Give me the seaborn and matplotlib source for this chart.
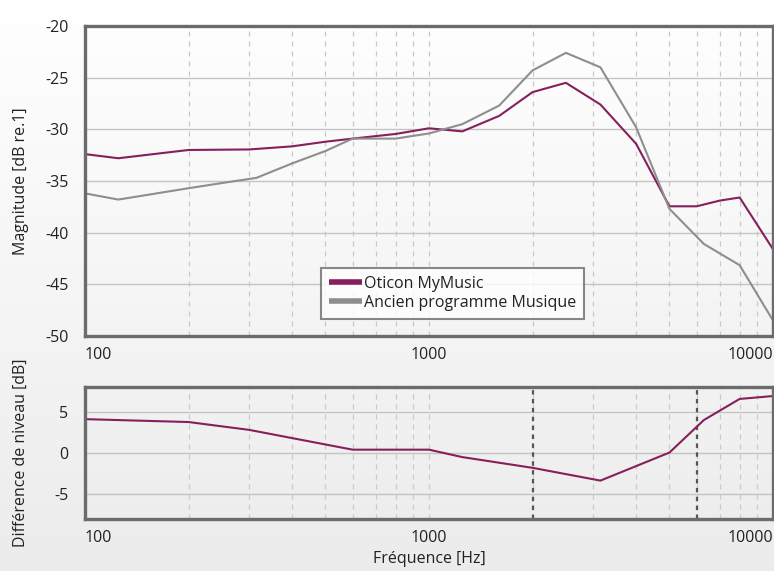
import numpy as np
import pandas as pd
import matplotlib
matplotlib.use("Agg")
import matplotlib.pyplot as plt
import seaborn as sns
from matplotlib.lines import Line2D

# ---- data ----
freq_mymusic = [100, 125, 200, 300, 400, 500, 600, 800, 1000, 1250, 1600, 2000,
                2500, 3150, 4000, 5000, 6000, 7000, 8000, 10000]
mag_mymusic = [-32.4, -32.8, -32.0, -31.95, -31.65, -31.2, -30.9, -30.45, -29.9,
               -30.2, -28.7, -26.4, -25.5, -27.6, -31.4, -37.45, -37.45, -36.9,
               -36.6, -41.6]

freq_ancien = [100, 125, 200, 250, 315, 400, 500, 600, 800, 1000, 1250, 1600,
               2000, 2500, 3150, 4000, 5000, 6300, 8000, 10000]
mag_ancien = [-36.2, -36.8, -35.7, -35.2, -34.7, -33.3, -32.1, -30.9, -30.9,
              -30.4, -29.5, -27.7, -24.3, -22.6, -24.0, -29.8, -37.7, -41.1,
              -43.15, -48.5]

freq_diff = [100, 200, 300, 600, 1000, 1250, 2000, 3150, 5000, 6300, 8000, 10000]
diff_level = [4.1, 3.75, 2.8, 0.4, 0.4, -0.5, -1.8, -3.35, 0.05, 4.0, 6.55, 6.9]

marker_freqs = [2000, 6000]

series_names = ["Oticon MyMusic", "Ancien programme Musique"]
top_yticks = [-20, -25, -30, -35, -40, -45, -50]
bottom_yticks = [5, 0, -5]
xtick_vals = [100, 1000, 10000]
xtick_labels = ["100", "1000", "10000"]

# ---- style ----
sns.set_style("white")
plt.rcParams["font.family"] = ["Open Sans", "DejaVu Sans"]

FS = 11.5
C_MAG = "#861F5B"
C_GRAY = "#8E8E8E"
FRAME = "#6B6B6B"
TXT = "#222222"

fig = plt.figure(figsize=(7.74, 5.71), dpi=100)

# figure background gradient
bg = fig.add_axes([0, 0, 1, 1], zorder=-10)
grad = np.linspace(1.0, 0.925, 256).reshape(-1, 1)
bg.imshow(np.dstack([grad, grad, grad]), aspect="auto", extent=[0, 1, 0, 1])
bg.axis("off")

ax1 = fig.add_axes([0.1098, 0.4116, 0.8889, 0.5429])
ax2 = fig.add_axes([0.1098, 0.0911, 0.8889, 0.2312])

df_top = pd.concat([
    pd.DataFrame({"f": freq_mymusic, "v": mag_mymusic, "s": series_names[0]}),
    pd.DataFrame({"f": freq_ancien, "v": mag_ancien, "s": series_names[1]}),
])
sns.lineplot(data=df_top, x="f", y="v", hue="s", palette=[C_MAG, C_GRAY],
             linewidth=1.5, ax=ax1, legend=False, sort=False, zorder=5)

df_bot = pd.DataFrame({"f": freq_diff, "v": diff_level})
sns.lineplot(data=df_bot, x="f", y="v", color=C_MAG, linewidth=1.5, ax=ax2,
             sort=False, zorder=5)

for f in marker_freqs:
    ax2.axvline(f, color="#555555", lw=1.6, ls=(0, (2, 2)), zorder=4)

minor = [m * d for d in (100, 1000) for m in range(2, 10)]
for ax, ylim, yt in ((ax1, (-50, -20), top_yticks), (ax2, (-8, 8), bottom_yticks)):
    ax.set_facecolor("none")
    ax.set_xscale("log")
    ax.set_xlim(100, 10000)
    ax.set_ylim(*ylim)
    ax.set_yticks(yt)
    ax.set_yticklabels([str(v) for v in yt])
    ax.set_xticks(xtick_vals)
    ax.set_xticks(minor, minor=True)
    ax.set_xticklabels(xtick_labels)
    ax.tick_params(axis="x", which="minor", length=0, labelbottom=False)
    ax.tick_params(axis="both", which="major", length=0, labelsize=FS,
                   colors=TXT)
    ax.tick_params(axis="y", pad=12)
    ax.tick_params(axis="x", pad=8)
    for f in minor + [1000]:
        ax.axvline(f, color="#C9C9C9", lw=0.9, ls=(0, (4, 4)), zorder=1)
    for v in yt:
        ax.axhline(v, color="#C4C4C4", lw=1.0, zorder=1)
    for sp in ax.spines.values():
        sp.set_visible(True)
        sp.set_color(FRAME)
        sp.set_linewidth(2.4)
        sp.set_zorder(10)
    labs = ax.get_xticklabels()
    labs[0].set_ha("left")
    labs[-1].set_ha("right")
    ax.set_xlabel("")

ax1.set_ylabel("Magnitude [dB re.1]", fontsize=FS, color=TXT)
ax2.set_ylabel("Différence de niveau [dB]", fontsize=FS, color=TXT)
ax2.set_xlabel("Fréquence [Hz]", fontsize=FS, color=TXT)
ax1.yaxis.set_label_coords(-0.082, 0.5)
ax2.yaxis.set_label_coords(-0.082, 0.5)
ax2.xaxis.set_label_coords(0.5, -0.245)

handles = [Line2D([], [], color=C_MAG, lw=4, solid_capstyle="butt"),
           Line2D([], [], color=C_GRAY, lw=4, solid_capstyle="butt")]
leg = ax1.legend(handles, series_names, loc="lower left",
                 bbox_to_anchor=(0.343, 0.055), fontsize=FS, frameon=True,
                 fancybox=False, handlelength=2.1, handletextpad=0.1,
                 borderpad=0.5, labelspacing=0.2, borderaxespad=0)
leg.get_frame().set_edgecolor(FRAME)
leg.get_frame().set_linewidth(1.5)
leg.get_frame().set_facecolor("white")
leg.set_zorder(20)
for t in leg.get_texts():
    t.set_color(TXT)

fig.savefig("out.png", dpi=100)
